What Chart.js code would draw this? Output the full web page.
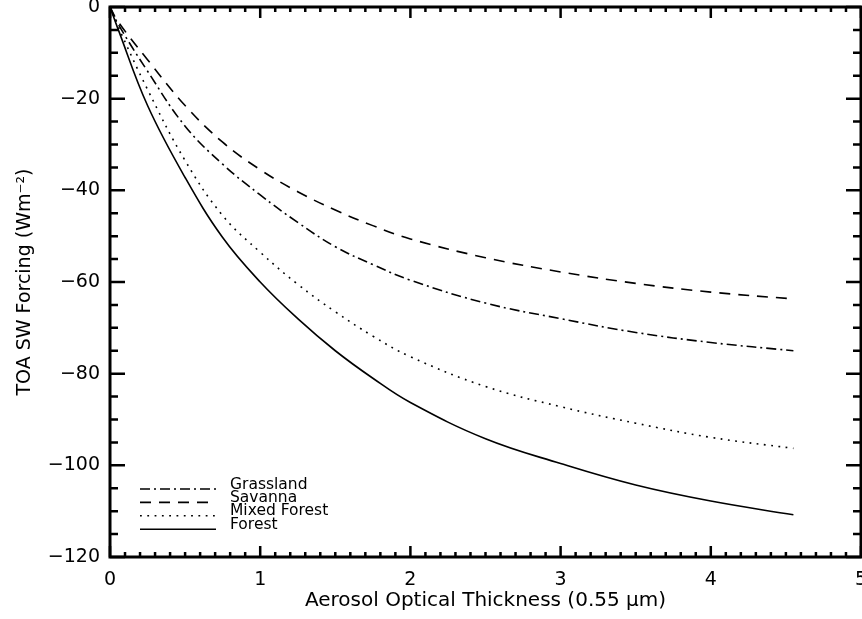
<!DOCTYPE html>
<html>
<head>
<meta charset="utf-8">
<script src="https://cdn.jsdelivr.net/npm/chart.js@4"></script>
<style>
  html, body { margin: 0; padding: 0; background: #fff; }
  #wrap { width: 862px; height: 619px; }
</style>
</head>
<body>
<div id="wrap"><canvas id="forcingChart"></canvas></div>
<script>
// Aerosol optical thickness (x) and TOA SW forcing (Wm-2) per land cover
const aot = [0, 0.05, 0.25, 0.5, 0.75, 1, 1.25, 1.5, 1.75, 2, 2.5, 3, 3.5, 4, 4.55];
const grassland = [0, -3.5, -14, -26, -34.3, -41, -47, -52.3, -56.2, -59.6, -64.6, -68, -71, -73.2, -75];
const savanna = [0, -3, -11.5, -21.5, -29.5, -35.5, -40.3, -44.3, -47.7, -50.6, -54.7, -57.8, -60.3, -62.2, -63.7];
const mixedForest = [0, -4, -18, -33.5, -45.5, -53.5, -60.5, -66.5, -71.8, -76.3, -82.8, -87.2, -90.8, -93.9, -96.3];
const forest = [0, -4.5, -21.5, -37.2, -50.3, -60, -68, -75, -81, -86.3, -94.2, -99.6, -104.3, -107.8, -110.8];

const seriesNames = ['Grassland', 'Savanna', 'Mixed Forest', 'Forest'];
const seriesValues = [grassland, savanna, mixedForest, forest];

const FONT = 'DejaVu Sans';

function toPoints(values) {
  return values.map((v, i) => ({ x: aot[i], y: v }));
}

const dashes = [[10, 4, 2, 4], [11, 8], [1.8, 5.5], []];

const datasets = seriesNames.map((name, i) => ({
  label: name,
  data: toPoints(seriesValues[i]),
  borderColor: '#000',
  borderWidth: 1.6,
  borderDash: dashes[i],
  pointRadius: 0,
  fill: false,
  tension: 0.4
}));

// Legend drawn inside the plot, lower left (line sample + label)
const innerLegend = {
  id: 'innerLegend',
  afterDatasetsDraw(chart) {
    const { ctx, chartArea } = chart;
    const x0 = chartArea.left + 30;
    const y0 = chartArea.bottom - 68;
    ctx.save();
    ctx.font = '15.5px "' + FONT + '"';
    ctx.fillStyle = '#000';
    ctx.strokeStyle = '#000';
    ctx.textBaseline = 'middle';
    chart.data.datasets.forEach((ds, i) => {
      const y = y0 + i * 13.4;
      ctx.lineWidth = ds.borderWidth;
      ctx.setLineDash(ds.borderDash);
      ctx.beginPath();
      ctx.moveTo(x0, y);
      ctx.lineTo(x0 + 76, y);
      ctx.stroke();
      ctx.fillText(ds.label, x0 + 90, y - 4.5);
    });
    ctx.restore();
  }
};

// Box frame with inward major/minor ticks on all four sides
const frameTicks = {
  id: 'frameTicks',
  afterDraw(chart) {
    const { ctx, chartArea: a, scales } = chart;
    const xs = scales.x, ys = scales.y;
    ctx.save();
    ctx.strokeStyle = '#000';
    ctx.setLineDash([]);
    ctx.lineWidth = 2.5;
    ctx.beginPath();
    for (let i = 0; i <= 50; i++) {
      const px = xs.getPixelForValue(i / 10);
      const len = i % 10 === 0 ? 11 : 5;
      ctx.moveTo(px, a.bottom); ctx.lineTo(px, a.bottom - len);
      ctx.moveTo(px, a.top); ctx.lineTo(px, a.top + len);
    }
    for (let i = 0; i <= 24; i++) {
      const py = ys.getPixelForValue(-5 * i);
      const len = i % 4 === 0 ? 15 : 8;
      ctx.moveTo(a.left, py); ctx.lineTo(a.left + len, py);
      ctx.moveTo(a.right, py); ctx.lineTo(a.right - len, py);
    }
    ctx.stroke();
    ctx.lineWidth = 3;
    ctx.strokeRect(a.left, a.top, a.right - a.left, a.bottom - a.top);
    ctx.restore();
  }
};

const ctx = document.getElementById('forcingChart').getContext('2d');
new Chart(ctx, {
  type: 'line',
  data: { datasets },
  options: {
    responsive: true,
    maintainAspectRatio: false,
    animation: false,
    layout: { padding: { top: 7, right: 1, left: 0, bottom: 0 } },
    plugins: { legend: { display: false }, tooltip: { enabled: false } },
    scales: {
      x: {
        type: 'linear',
        min: 0,
        max: 5,
        afterFit(s) { s.height = 62; s.paddingLeft = 0; s.paddingRight = 0; },
        grid: { display: false, drawTicks: false },
        border: { display: false },
        ticks: { stepSize: 1, padding: 12, maxRotation: 0, color: '#000', font: { family: FONT, size: 19 } },
        title: {
          display: true,
          text: 'Aerosol Optical Thickness (0.55 \u03bcm)',
          color: '#000',
          font: { family: FONT, size: 20 },
          padding: { top: 0, bottom: 6 }
        }
      },
      y: {
        type: 'linear',
        min: -120,
        max: 0,
        afterFit(s) { s.width = 110; s.paddingTop = 0; s.paddingBottom = 0; },
        grid: { display: false, drawTicks: false },
        border: { display: false },
        ticks: {
          stepSize: 20,
          padding: 10,
          color: '#000',
          font: { family: FONT, size: 19 },
          callback: v => (v < 0 ? '\u2212' + Math.abs(v) : String(v))
        },
        title: {
          display: true,
          text: 'TOA SW Forcing (Wm\u207b\u00b2)',
          color: '#000',
          font: { family: FONT, size: 19 },
          padding: { top: 14, bottom: 0 }
        }
      }
    }
  },
  plugins: [innerLegend, frameTicks]
});
</script>
</body>
</html>
